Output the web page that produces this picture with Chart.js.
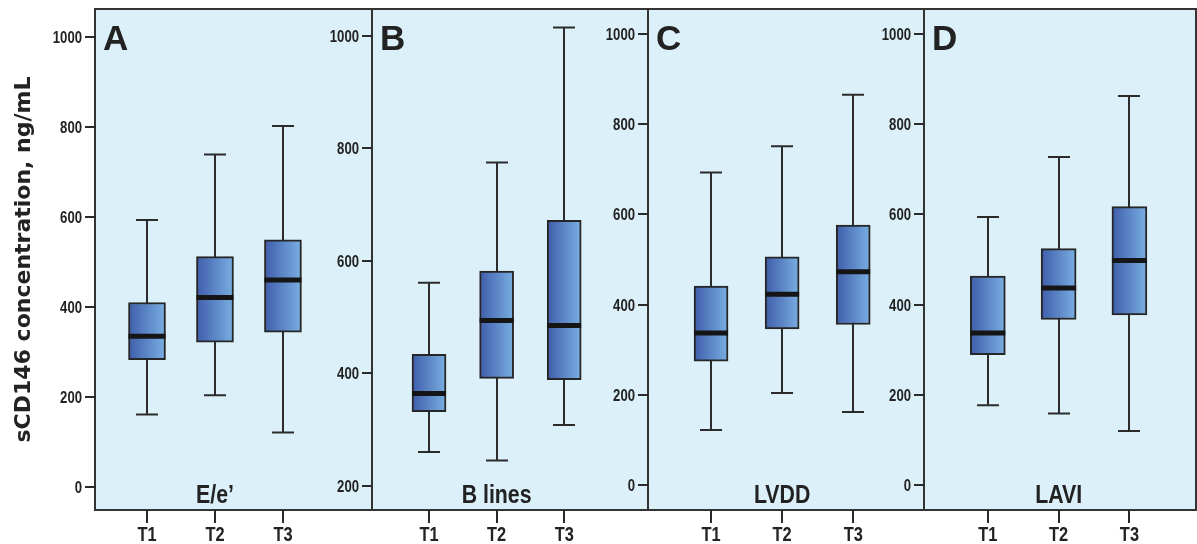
<!DOCTYPE html>
<html>
<head>
<meta charset="utf-8">
<script src="https://cdn.jsdelivr.net/npm/chart.js@4/dist/chart.umd.min.js"></script>
<style>
  html, body { margin: 0; padding: 0; background: #ffffff; }
  #wrap { position: relative; width: 1197px; height: 544px; overflow: hidden; }
  canvas { position: absolute; top: 0; }
</style>
</head>
<body>
<div id="wrap">
  <canvas id="panelA" width="374" height="544" style="left:0px"></canvas>
  <canvas id="panelB" width="328" height="544" style="left:322px"></canvas>
  <canvas id="panelC" width="329" height="544" style="left:598px"></canvas>
  <canvas id="panelD" width="323" height="544" style="left:874px"></canvas>
</div>
<script>
// data (sCD146, ng/mL)
const groups = ["T1", "T2", "T3"];
const panelLetters = ["A", "B", "C", "D"];
const panelNames = ["E/e\u2019", "B lines", "LVDD", "LAVI"];
const pValues = ["p<0.001", "p=0.06", "p<0.001", "p<0.001"];
const yTicksMain = [0, 200, 400, 600, 800, 1000];
const yTicksB = [200, 400, 600, 800, 1000];

const whiskerLow = [[161, 204, 121], [260, 245, 308], [122, 204, 162], [177, 159, 120]];
const quartile1 = [[283, 322, 344], [332, 391, 389], [275, 346, 356], [289, 367, 377]];
const median = [[335, 421, 460], [364, 494, 485], [337, 423, 473], [337, 437, 498]];
const quartile3 = [[410, 512, 549], [434, 582, 672], [441, 506, 576], [463, 524, 617]];
const whiskerHigh = [[593, 739, 802], [561, 775, 1015], [693, 751, 865], [594, 727, 862]];

// layout of each panel (pixels / axis ranges), not data
const layout = [
  { id: "panelA", yWidth: 95, padRight: 2, xMin: 0.235, xMax: 4.31, yMin: -51, yMax: 1062, ticks: yTicksMain, boxW: 37, pFrac: 0.5 },
  { id: "panelB", yWidth: 50, padRight: 2, xMin: 0.156, xMax: 4.24, yMin: 157, yMax: 1048, ticks: yTicksB, boxW: 34, pFrac: 0.486 },
  { id: "panelC", yWidth: 50, padRight: 2, xMin: 0.113, xMax: 4.01, yMin: -55, yMax: 1055, ticks: yTicksMain, boxW: 34, pFrac: 0.48 },
  { id: "panelD", yWidth: 50, padRight: 1, xMin: 0.099, xMax: 3.94, yMin: -55, yMax: 1055, ticks: yTicksMain, boxW: 35, pFrac: 0.54 }
];

const FONT = "'Liberation Sans', Arial, sans-serif";
const INK = "#222222";
const SQUEEZE = 0.82; // the figure uses a narrow bold face

// texte "étroit" : on compresse horizontalement
function narrowText(c, text, x, y, align, size) {
  c.save();
  c.translate(x, y);
  c.scale(SQUEEZE, 1);
  c.font = "bold " + size + "px " + FONT;
  c.textAlign = align;
  c.textBaseline = "alphabetic";
  c.fillText(text, 0, 0);
  c.restore();
}

// petits traits de graduation, dessinés avant tout le reste
function drawTickMarks(chart) {
  const p = chart.options.plugins.boxPlot;
  const x = chart.scales.x, y = chart.scales.y;
  const a = chart.chartArea;
  const c = chart.ctx;
  const yt = layout[p.panel].ticks;
  c.save();
  c.fillStyle = "#2a2a2a";
  for (let j = 0; j < yt.length; j++) {
    const ty = Math.round(y.getPixelForValue(yt[j]));
    c.fillRect(Math.round(a.left) - 10, ty - 1, 11, 2);
  }
  for (let i = 0; i < groups.length; i++) {
    const tx = Math.round(x.getPixelForValue(i + 1));
    c.fillRect(tx - 1, Math.round(a.bottom), 2, 13);
  }
  c.restore();
}

// fond bleu clair + cadre + moustaches + médianes + textes
const boxPlotPlugin = {
  id: "boxPlot",
  beforeDraw(chart) {
    const a = chart.chartArea;
    const c = chart.ctx;
    c.save();
    c.fillStyle = "#dcf0fa";
    c.fillRect(a.left, a.top, a.right - a.left, a.bottom - a.top);
    c.restore();
    drawTickMarks(chart);
  },
  beforeDatasetsDraw(chart) {
    const p = chart.options.plugins.boxPlot;
    const x = chart.scales.x, y = chart.scales.y;
    const c = chart.ctx;
    c.save();
    c.strokeStyle = "#2b2b2b";
    c.lineWidth = 2;
    for (let i = 0; i < groups.length; i++) {
      const px = Math.round(x.getPixelForValue(i + 1));
      const lo = y.getPixelForValue(whiskerLow[p.panel][i]);
      const hi = y.getPixelForValue(whiskerHigh[p.panel][i]);
      c.beginPath();
      c.moveTo(px, lo); c.lineTo(px, hi);
      c.moveTo(px - 11, lo); c.lineTo(px + 11, lo);
      c.moveTo(px - 11, hi); c.lineTo(px + 11, hi);
      c.stroke();
    }
    c.restore();
  },
  afterDatasetsDraw(chart) {
    const p = chart.options.plugins.boxPlot;
    const x = chart.scales.x, y = chart.scales.y;
    const c = chart.ctx;
    c.save();
    c.strokeStyle = "#151515";
    c.lineWidth = 5;
    for (let i = 0; i < groups.length; i++) {
      const px = x.getPixelForValue(i + 1);
      const my = y.getPixelForValue(median[p.panel][i]);
      c.beginPath();
      c.moveTo(px - p.boxW / 2, my); c.lineTo(px + p.boxW / 2, my);
      c.stroke();
    }
    c.restore();
  },
  afterDraw(chart) {
    const p = chart.options.plugins.boxPlot;
    const x = chart.scales.x, y = chart.scales.y;
    const a = chart.chartArea;
    const c = chart.ctx;
    const yt = layout[p.panel].ticks;
    c.save();
    // frame
    c.strokeStyle = "#333333";
    c.lineWidth = 2;
    c.strokeRect(a.left, a.top, a.right - a.left, a.bottom - a.top);
    c.restore();
    drawTickMarks(chart);
    c.save();
    // tick labels
    c.fillStyle = INK;
    for (let j = 0; j < yt.length; j++) {
      narrowText(c, String(yt[j]), a.left - 13, y.getPixelForValue(yt[j]) + 6, "right", 16);
    }
    for (let i = 0; i < groups.length; i++) {
      narrowText(c, groups[i], x.getPixelForValue(i + 1), 541, "center", 20);
    }
    // panel texts
    c.textBaseline = "alphabetic";
    c.textAlign = "left";
    c.font = "bold 35px " + FONT;
    c.fillText(panelLetters[p.panel], a.left + 8, 50);
    c.textAlign = "center";
    c.font = "bold 21px " + FONT;
    c.fillText(pValues[p.panel], a.left + (a.right - a.left) * p.pFrac, 64);
    narrowText(c, panelNames[p.panel], x.getPixelForValue(2), 503, "center", 26);
    c.restore();
  }
};

function gradientFill(boxW) {
  return (ctx) => {
    const chart = ctx.chart;
    if (!chart.chartArea || !ctx.raw) return "#5b86c8";
    const px = chart.scales.x.getPixelForValue(ctx.raw.x);
    const g = chart.ctx.createLinearGradient(px - boxW / 2, 0, px + boxW / 2, 0);
    g.addColorStop(0, "#3f5dab");
    g.addColorStop(1, "#79afe2");
    return g;
  };
}

layout.forEach((L, k) => {
  const boxes = groups.map((g, i) => ({ x: i + 1, y: [quartile1[k][i], quartile3[k][i]] }));
  const yScale = {
    type: "linear",
    min: L.yMin,
    max: L.yMax,
    afterFit: (s) => { s.width = L.yWidth; },
    ticks: { display: false },
    grid: { display: false },
    border: { display: false }
  };
  if (k === 0) {
    yScale.title = {
      display: true,
      text: "sCD146 concentration, ng/mL",
      font: { family: "'DejaVu Sans', sans-serif", size: 22, weight: "bold" },
      color: INK,
      padding: { top: 11, bottom: 0 }
    };
  }
  new Chart(document.getElementById(L.id).getContext("2d"), {
    type: "bar",
    data: {
      datasets: [{
        data: boxes,
        backgroundColor: gradientFill(L.boxW),
        borderColor: "#262626",
        borderWidth: 2,
        borderSkipped: false,
        barThickness: L.boxW
      }]
    },
    options: {
      responsive: false,
      animation: false,
      layout: { padding: { top: 9, right: L.padRight, left: 0, bottom: 0 } },
      plugins: {
        legend: { display: false },
        tooltip: { enabled: false },
        boxPlot: { panel: k, boxW: L.boxW }
      },
      scales: {
        x: {
          type: "linear",
          offset: false,
          min: L.xMin,
          max: L.xMax,
          afterFit: (s) => { s.height = 34; },
          ticks: { display: false },
          grid: { display: false },
          border: { display: false }
        },
        y: yScale
      }
    },
    plugins: [boxPlotPlugin]
  });
});
</script>
</body>
</html>
